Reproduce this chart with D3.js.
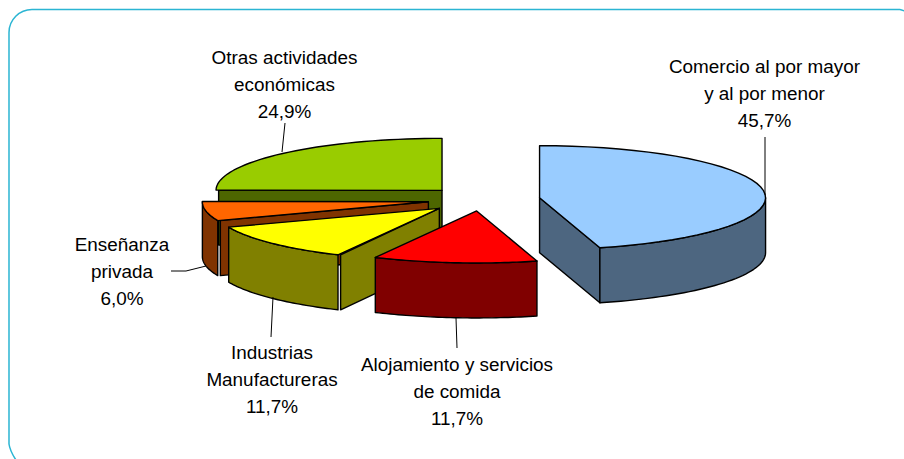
<!DOCTYPE html>
<html>
<head>
<meta charset="utf-8">
<script src="https://cdnjs.cloudflare.com/ajax/libs/d3/7.8.5/d3.min.js"></script>
<style>
html, body { margin: 0; padding: 0; background: #fff; }
svg { display: block; }
text { font-family: "Liberation Sans", Arial, sans-serif; font-size: 18.9px; fill: #000; }
</style>
</head>
<body>
<svg id="chart" width="904" height="459"></svg>
<script>
// data, clockwise from 12 o'clock
const categories = ['Comercio al por mayor y al por menor', 'Alojamiento y servicios de comida', 'Industrias Manufactureras', 'Enseñanza privada', 'Otras actividades económicas'];
const shares = [45.7, 11.7, 11.7, 6.0, 24.9];
const shareLabels = ['45,7%', '11,7%', '11,7%', '6,0%', '24,9%'];
const labelLines = [
  ['Comercio al por mayor', 'y al por menor', '45,7%'],
  ['Alojamiento y servicios', 'de comida', '11,7%'],
  ['Industrias', 'Manufactureras', '11,7%'],
  ['Enseñanza', 'privada', '6,0%'],
  ['Otras actividades', 'económicas', '24,9%']
];

// layout
const topColors = ['#99ccff', '#ff0000', '#ffff00', '#ff6600', '#99cc00'];
const wallColors = ['#4d6680', '#800000', '#808000', '#803300', '#4d6600'];
const explode = [58.6, 50, 57, 54, 56];
const labelAnchors = [[764.5, 73], [457, 371], [272, 359], [122, 251], [284.5, 64]];
const leaders = [
  [[765, 137], [765, 195]],
  [[456, 318], [457, 348]],
  [[273, 297], [271, 337]],
  [[171, 271], [186, 271], [206, 266]],
  [[285, 123], [282, 152]]
];
const base = { x: 481.5, y: 199.5 };
const rx = 226, ry = 52, depth = 55;
const seam = 2.6;
const lineHeight = 27;

const svg = d3.select('#chart');

svg.append('path')
  .attr('d', 'M900,9.5L906,11.5M900,9.5H32A23,23 0 0 0 9,32.5V444Q10,451 16,460')
  .attr('fill', 'none')
  .attr('stroke', '#2bb5d3')
  .attr('stroke-width', 1.5);

const arcs = d3.pie().sort(null).value(d => d)(shares);
const line = d3.line();

const drawSlice = (d, i) => {
  const mid = (d.startAngle + d.endAngle) / 2;
  const cx = base.x + explode[i] * Math.sin(mid);
  const cy = base.y - explode[i] * Math.cos(mid) * ry / rx;
  const at = (a, dy = 0) => [cx + rx * Math.sin(a), cy - ry * Math.cos(a) + dy];
  const sweep = (a0, a1, dy = 0) => d3.range(41).map(k => at(a0 + (a1 - a0) * k / 40, dy));
  const g = svg.append('g')
    .attr('stroke', '#000')
    .attr('stroke-width', 1.4)
    .attr('stroke-linejoin', 'round');

  // radial wall, only when it faces the viewer
  const radial = (a, gap) => {
    const p = at(a);
    g.append('path')
      .attr('d', line([[p[0] + gap, p[1]], [cx, cy], [cx, cy + depth], [p[0] + gap, p[1] + depth]]) + 'Z')
      .attr('fill', wallColors[i]);
  };
  if (Math.sin(d.startAngle) < -1e-6) radial(d.startAngle, seam);
  if (Math.sin(d.endAngle) > 1e-6) radial(d.endAngle, 0);

  // rim wall on the front half of the ellipse
  const a0 = Math.max(d.startAngle, Math.PI / 2);
  const a1 = Math.min(d.endAngle, 3 * Math.PI / 2);
  if (a1 > a0) {
    g.append('path')
      .attr('d', line(sweep(a0, a1).concat(sweep(a1, a0, depth))) + 'Z')
      .attr('fill', wallColors[i]);
  }

  g.append('path')
    .attr('d', line([[cx, cy]].concat(sweep(d.startAngle, d.endAngle))) + 'Z')
    .attr('fill', topColors[i]);
};

// back to front
[4, 3, 2, 1, 0].forEach(i => drawSlice(arcs[i], i));

svg.append('g').selectAll('path')
  .data(leaders)
  .join('path')
  .attr('d', d => line(d))
  .attr('fill', 'none')
  .attr('stroke', '#000')
  .attr('stroke-width', 1);

svg.append('g').selectAll('text')
  .data(labelLines)
  .join('text')
  .attr('text-anchor', 'middle')
  .attr('x', (d, i) => labelAnchors[i][0])
  .attr('y', (d, i) => labelAnchors[i][1])
  .selectAll('tspan')
  .data((d, i) => d.map(t => ({ t, x: labelAnchors[i][0] })))
  .join('tspan')
  .attr('x', d => d.x)
  .attr('dy', (d, k) => k ? lineHeight : 0)
  .text(d => d.t);
</script>
</body>
</html>
